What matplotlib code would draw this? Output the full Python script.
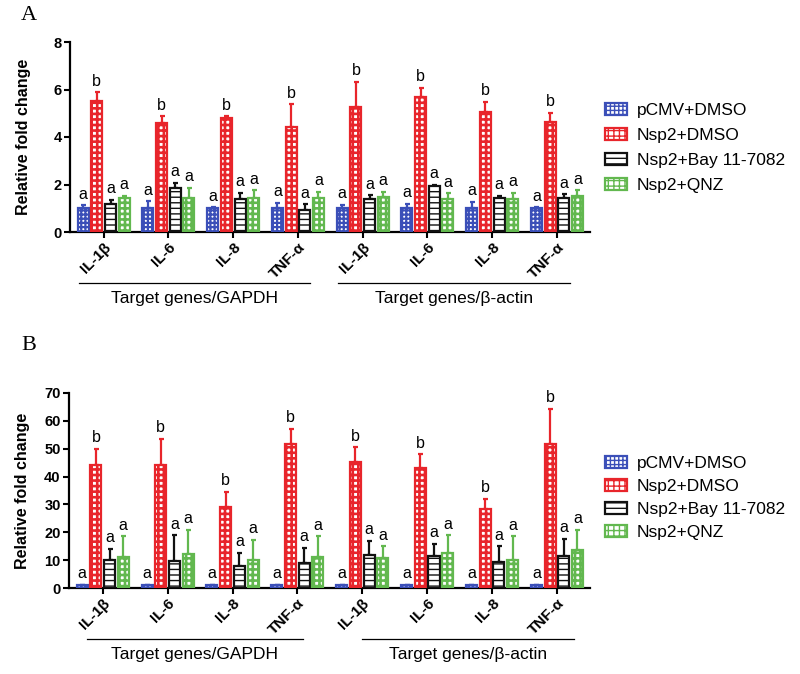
import numpy as np
import matplotlib
matplotlib.use('Agg')
import matplotlib.pyplot as plt
from matplotlib.patches import Patch

plt.rcParams['font.family'] = ['Liberation Sans', 'DejaVu Sans']

genes = ['IL-1β', 'IL-6', 'IL-8', 'TNF-α', 'IL-1β', 'IL-6', 'IL-8', 'TNF-α']
ref_groups = ['Target genes/GAPDH', 'Target genes/β-actin']
treatments = ['pCMV+DMSO', 'Nsp2+DMSO', 'Nsp2+Bay 11-7082', 'Nsp2+QNZ']
sig_letters = ['a', 'b', 'a', 'a']

# panel A
a_pcmv = [1.0, 1.0, 1.0, 1.0, 1.0, 1.0, 1.0, 1.0]
a_pcmv_err = [0.12, 0.3, 0.05, 0.24, 0.15, 0.2, 0.28, 0.05]
a_dmso = [5.5, 4.57, 4.78, 4.43, 5.27, 5.69, 5.06, 4.64]
a_dmso_err = [0.38, 0.31, 0.1, 0.94, 1.05, 0.39, 0.42, 0.38]
a_bay = [1.2, 1.85, 1.38, 0.93, 1.4, 1.92, 1.42, 1.43]
a_bay_err = [0.15, 0.23, 0.28, 0.25, 0.15, 0.07, 0.1, 0.17]
a_qnz = [1.42, 1.45, 1.42, 1.42, 1.48, 1.38, 1.38, 1.5]
a_qnz_err = [0.1, 0.42, 0.33, 0.28, 0.22, 0.26, 0.28, 0.25]

# panel B
b_pcmv = [1.0, 1.0, 1.0, 1.0, 1.0, 1.0, 1.0, 1.0]
b_pcmv_err = [0.2, 0.2, 0.2, 0.2, 0.2, 0.2, 0.2, 0.2]
b_dmso = [44.0, 44.0, 29.1, 51.8, 45.2, 43.1, 28.5, 51.6]
b_dmso_err = [6.0, 9.6, 5.4, 5.4, 5.4, 4.9, 3.6, 12.8]
b_bay = [9.9, 9.7, 7.8, 9.0, 12.0, 11.5, 9.3, 11.5]
b_bay_err = [4.2, 9.2, 4.8, 5.5, 4.9, 4.4, 5.7, 6.2]
b_qnz = [11.1, 12.3, 9.9, 11.1, 10.8, 12.7, 9.9, 13.5]
b_qnz_err = [7.4, 8.6, 7.5, 7.4, 4.2, 6.2, 8.6, 7.4]

colors = ['#3b4fb8', '#e8252b', '#111111', '#62b84f']
hatches = ['++++', '+++', '---', '+++']
hatch_lw = [1.6, 1.9, 1.0, 1.9]

W, H = 800, 674
fig = plt.figure(figsize=(8, 6.74), dpi=100)


def styled(patches, k):
    for p in patches:
        if hasattr(p, 'set_hatch_linewidth'):
            p.set_hatch_linewidth(hatch_lw[k])


def panel(rect, series, errs, ymax, yticks, letter, letter_y, leg_top, leg_space, line_spans):
    ax = fig.add_axes(rect)
    x = np.arange(len(genes))
    step = 0.211
    for k in range(4):
        pos = x + (k - 1.5) * step
        with plt.rc_context({'hatch.linewidth': hatch_lw[k]}):
            bars = ax.bar(pos, series[k], width=0.17, facecolor='white', edgecolor=colors[k],
                          hatch=hatches[k], linewidth=1.6, zorder=3)
        styled(bars, k)
        ax.errorbar(pos, series[k], yerr=[np.zeros(len(genes)), errs[k]], fmt='none',
                    ecolor=colors[k], elinewidth=1.6, capsize=1.8, capthick=1.6, zorder=2)
        for p, v, e in zip(pos, series[k], errs[k]):
            ax.annotate(sig_letters[k], (p, v + e), xytext=(0, 2.5), textcoords='offset points',
                        ha='center', va='bottom', fontsize=11.5)
    ax.set_xlim(-0.52, 7.51)
    ax.set_ylim(0, ymax)
    ax.set_yticks(yticks)
    ax.set_xticks(x)
    ax.set_xticklabels(genes, rotation=45, ha='right', rotation_mode='anchor',
                       fontsize=11, fontweight='bold')
    for lab in ax.get_yticklabels():
        lab.set_fontweight('bold')
        lab.set_fontsize(10.5)
    ax.tick_params(width=1.5, length=4, pad=2)
    for s in ['top', 'right']:
        ax.spines[s].set_visible(False)
    for s in ['left', 'bottom']:
        ax.spines[s].set_linewidth(1.6)
    ax.set_ylabel('Relative fold change', fontsize=11.5, fontweight='bold')
    ax.yaxis.set_label_coords(-0.075, 0.5)

    ax_h = rect[3] * H
    for (x0, x1), name in zip(line_spans, ref_groups):
        ax.plot([x0, x1], [-51 / ax_h] * 2, color='black', lw=0.9,
                transform=ax.get_xaxis_transform(), clip_on=False)
        ax.text((x0 + x1) / 2, -66 / ax_h, name, ha='center', va='center', fontsize=12.5,
                transform=ax.get_xaxis_transform())

    fig.text(21 / W, 1 - letter_y / H, letter, fontsize=16, family='Liberation Serif',
             ha='left', va='center')

    handles = []
    for k in range(4):
        with plt.rc_context({'hatch.linewidth': hatch_lw[k]}):
            h = Patch(facecolor='white', edgecolor=colors[k], hatch=hatches[k], linewidth=1.6)
        styled([h], k)
        handles.append(h)
    fig.legend(handles, treatments, loc='upper left', bbox_to_anchor=(605 / W, 1 - leg_top / H),
               frameon=False, fontsize=12.5, handlelength=1.25, handleheight=0.7,
               handletextpad=0.6, labelspacing=leg_space, borderpad=0, borderaxespad=0)
    return ax


panel([70 / W, 1 - 232 / H, 520 / W, 190 / H],
      [a_pcmv, a_dmso, a_bay, a_qnz], [a_pcmv_err, a_dmso_err, a_bay_err, a_qnz_err],
      8, [0, 2, 4, 6, 8], 'A', 15, 103, 0.57, [(-0.38, 3.19), (3.62, 7.2)])
panel([69 / W, 1 - 588 / H, 521 / W, 195 / H],
      [b_pcmv, b_dmso, b_bay, b_qnz], [b_pcmv_err, b_dmso_err, b_bay_err, b_qnz_err],
      70, [0, 10, 20, 30, 40, 50, 60, 70], 'B', 345, 456, 0.45, [(-0.24, 3.08), (3.99, 7.27)])

fig.savefig('out.png', dpi=100)
